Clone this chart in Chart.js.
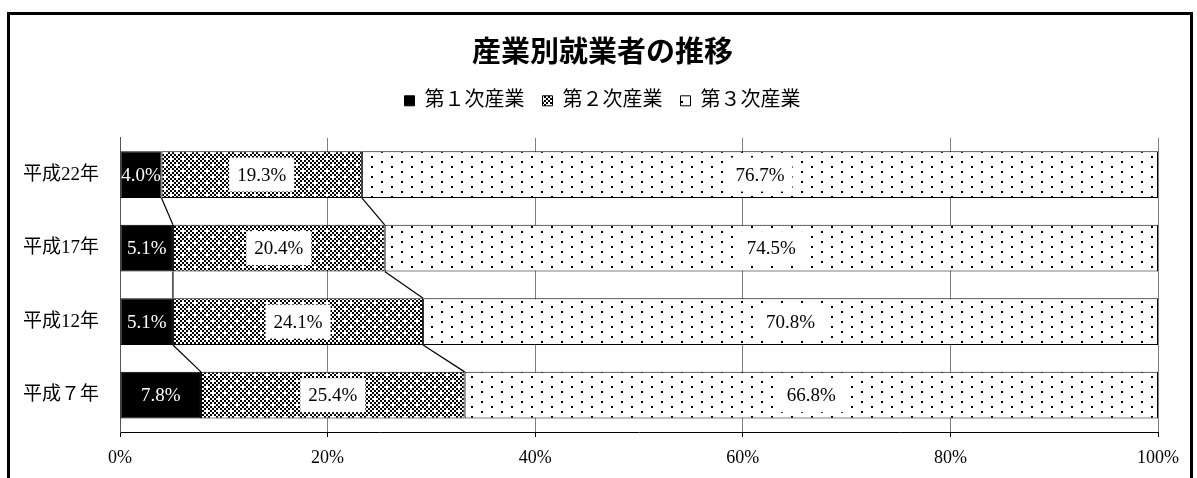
<!DOCTYPE html>
<html><head><meta charset="utf-8">
<script src="https://cdn.jsdelivr.net/npm/chart.js@4"></script>
<style>
html,body{margin:0;padding:0;background:#fff;}
#wrap{position:relative;width:1197px;height:478px;overflow:hidden;background:#fff;}
#frame{position:absolute;left:7px;top:12px;width:1186px;height:600px;border:3px solid #000;box-sizing:border-box;}
#c{position:absolute;left:0;top:0;}
</style></head>
<body><div id="wrap"><div id="frame"></div><canvas id="c" width="1197" height="478"></canvas></div>
<script>
const chartTitle = '産業別就業者の推移';
const categories = ['平成22年', '平成17年', '平成12年', '平成７年'];
const seriesNames = ['第１次産業', '第２次産業', '第３次産業'];
const primary = [4.0, 5.1, 5.1, 7.8];
const secondary = [19.3, 20.4, 24.1, 25.4];
const tertiary = [76.7, 74.5, 70.8, 66.8];
const xTickStep = 20;

const cv = document.getElementById('c');
const ctx = cv.getContext('2d');

function checkerPattern() {
  const c = document.createElement('canvas'); c.width = 12; c.height = 12;
  const g = c.getContext('2d');
  g.fillStyle = '#fff'; g.fillRect(0, 0, 12, 12);
  g.fillStyle = '#000';
  for (let i = 0; i < 6; i++) for (let j = 0; j < 6; j++) {
    if ((i + j) % 2 === 0) {
      if ((i === 1 && j === 1) || (i === 4 && j === 4)) continue;
      g.fillRect(i * 2, j * 2, 2, 2);
    }
  }
  return ctx.createPattern(c, 'repeat');
}
function dotPattern() {
  const c = document.createElement('canvas'); c.width = 20; c.height = 10;
  const g = c.getContext('2d');
  g.fillStyle = '#fff'; g.fillRect(0, 0, 20, 10);
  g.fillStyle = '#000';
  g.fillRect(1, 1, 2, 2); g.fillRect(11, 6, 2, 2);
  return ctx.createPattern(c, 'repeat');
}
const fills = ['#000', checkerPattern(), dotPattern()];

const serif = '"Liberation Serif", "Noto Sans CJK JP"';

const seriesLines = {
  id: 'seriesLines',
  afterDatasetsDraw(chart) {
    const c = chart.ctx;
    c.save();
    c.strokeStyle = '#000'; c.lineWidth = 1.2;
    for (let s = 0; s < 2; s++) {
      const meta = chart.getDatasetMeta(s);
      for (let j = 0; j < meta.data.length - 1; j++) {
        const a = meta.data[j], b = meta.data[j + 1];
        c.beginPath();
        c.moveTo(a.x, a.y + a.height / 2);
        c.lineTo(b.x, b.y - b.height / 2);
        c.stroke();
      }
    }
    c.restore();
  }
};

const valueLabels = {
  id: 'valueLabels',
  afterDatasetsDraw(chart) {
    const c = chart.ctx;
    c.save();
    c.font = '19px ' + serif;
    c.textAlign = 'center'; c.textBaseline = 'middle';
    chart.data.datasets.forEach((ds, i) => {
      const meta = chart.getDatasetMeta(i);
      meta.data.forEach((el, j) => {
        const txt = ds.data[j].toFixed(1) + '%';
        const cx = (el.x + el.base) / 2, cy = el.y;
        const w = c.measureText(txt).width;
        if (i === 0) {
          c.fillStyle = '#fff';
        } else {
          c.fillStyle = '#fff';
          c.fillRect(cx - w / 2 - 8, cy - 17, w + 16, 34);
          c.fillStyle = '#000';
        }
        c.fillText(txt, cx, cy + 1);
      });
    });
    c.restore();
  }
};

const seriesData = [primary, secondary, tertiary];

new Chart(ctx, {
  type: 'bar',
  data: {
    labels: categories,
    datasets: seriesNames.map((n, i) => ({
      label: n,
      data: seriesData[i],
      backgroundColor: fills[i],
      borderColor: '#000',
      borderWidth: 1,
      borderSkipped: false,
      xAxisID: 'x',
      yAxisID: 'y',
      barPercentage: 1,
      categoryPercentage: 0.635
    }))
  },
  options: {
    indexAxis: 'y',
    responsive: false,
    animation: false,
    devicePixelRatio: 1,
    layout: { padding: { left: 8, right: 0, top: 0, bottom: 0 } },
    plugins: {
      title: {
        display: true, text: chartTitle, color: '#000',
        font: { family: '"Noto Sans CJK JP"', size: 29, weight: 'bold', lineHeight: 1.2 },
        padding: { top: 34, bottom: 4 }
      },
      legend: {
        display: true, position: 'top',
        labels: {
          color: '#000', font: { family: serif, size: 20 },
          boxWidth: 10, boxHeight: 10, padding: 18
        }
      },
      tooltip: { enabled: false }
    },
    scales: {
      x: {
        type: 'linear', position: 'bottom', stacked: true, min: 0, max: 100,
        ticks: { stepSize: xTickStep, callback: v => v + '%', color: '#000', font: { family: serif, size: 18 }, padding: 10, maxRotation: 0 },
        grid: { color: '#808080', lineWidth: 1, drawTicks: true, tickLength: 5, tickColor: '#000' },
        border: { display: true, color: '#000', width: 1 },
        afterFit(s) { s.height = 46; }
      },
      xTop: {
        type: 'linear', position: 'top', display: true,
        grid: { display: false }, border: { display: false }, ticks: { display: false },
        afterFit(s) { s.height = 17; }
      },
      y: {
        type: 'category', stacked: true,
        grid: { display: false },
        border: { display: true, color: '#555', width: 1 },
        ticks: { color: '#000', font: { family: serif, size: 19 }, padding: 13 },
        afterFit(s) { s.width = 112; }
      },
      yRight: {
        type: 'linear', position: 'right', display: true,
        grid: { display: false }, border: { display: false }, ticks: { display: false },
        afterFit(s) { s.width = 39; }
      }
    }
  },
  plugins: [seriesLines, valueLabels]
});
</script>
</body></html>
